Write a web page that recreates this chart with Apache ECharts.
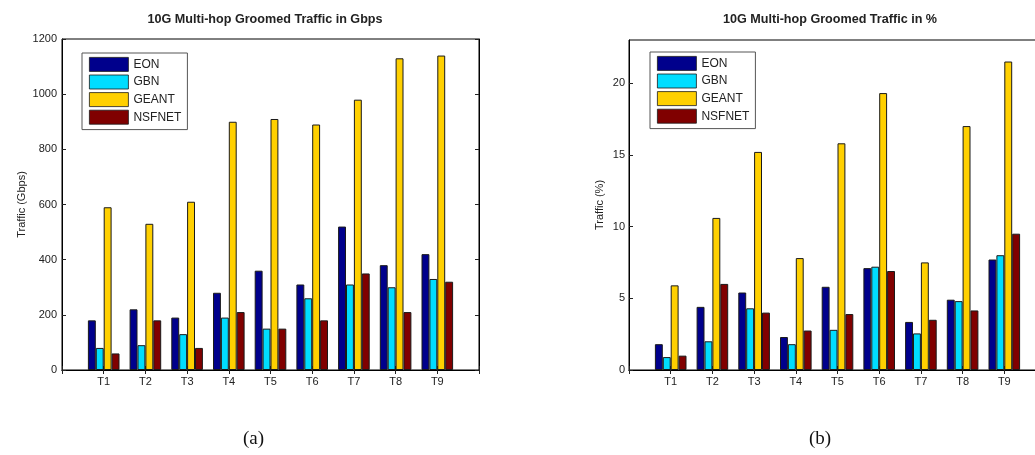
<!DOCTYPE html>
<html>
<head>
<meta charset="utf-8">
<script src="https://cdn.jsdelivr.net/npm/echarts@6/dist/echarts.min.js"></script>
<style>
  html, body { margin: 0; padding: 0; background: #fff; }
  #chart { width: 1035px; height: 455px; }
</style>
</head>
<body>
<div id="chart"></div>
<script>
// Traffic scenarios on the horizontal axis
const categories = ['T1', 'T2', 'T3', 'T4', 'T5', 'T6', 'T7', 'T8', 'T9'];
const networks = ['EON', 'GBN', 'GEANT', 'NSFNET'];

// (a) groomed traffic in Gbps
const eonGbps    = [180, 220, 190, 280, 360, 310, 520, 380, 420];
const gbnGbps    = [80, 90, 130, 190, 150, 260, 310, 300, 330];
const geantGbps  = [590, 530, 610, 900, 910, 890, 980, 1130, 1140];
const nsfnetGbps = [60, 180, 80, 210, 150, 180, 350, 210, 320];

// (b) groomed traffic in percent
const eonPct    = [1.8, 4.4, 5.4, 2.3, 5.8, 7.1, 3.35, 4.9, 7.7];
const gbnPct    = [0.9, 2.0, 4.3, 1.8, 2.8, 7.2, 2.55, 4.8, 8.0];
const geantPct  = [5.9, 10.6, 15.2, 7.8, 15.8, 19.3, 7.5, 17.0, 21.5];
const nsfnetPct = [1.0, 6.0, 4.0, 2.75, 3.9, 6.9, 3.5, 4.15, 9.5];

const colors = ['#00008c', '#00ddff', '#ffd000', '#800000'];
const FONT = '"Liberation Sans", Arial, sans-serif';

// axis runs from 0 to 10 with the scenarios at 1..9
const axisCats = [''].concat(categories, ['']);
const pad = arr => [null].concat(arr, [null]);

function xAxes(gridIndex) {
  return [
    {
      type: 'category', gridIndex, data: axisCats, boundaryGap: false,
      axisLine: { lineStyle: { color: '#000', width: 1 } },
      axisTick: { inside: true, length: 4, lineStyle: { color: '#222' } },
      axisLabel: { color: '#222', fontFamily: FONT, fontSize: 11, margin: 6, interval: 0 },
      splitLine: { show: false }
    },
    {
      type: 'category', gridIndex, data: axisCats, boundaryGap: false, position: 'top',
      axisLine: { lineStyle: { color: '#000', width: 1 } },
      axisTick: { inside: true, length: 4, interval: 0, lineStyle: { color: '#222' } },
      axisLabel: { show: false },
      splitLine: { show: false }
    }
  ];
}

function yAxes(gridIndex, max, interval, name, nameGap, labelMargin) {
  const common = {
    type: 'value', gridIndex, min: 0, max, interval,
    axisLine: { show: true, lineStyle: { color: '#000', width: 1 } },
    axisTick: { show: true, inside: true, length: 4, lineStyle: { color: '#222' } },
    splitLine: { show: false }
  };
  return [
    Object.assign({}, common, {
      position: 'left',
      name, nameLocation: 'middle', nameGap,
      nameTextStyle: { color: '#222', fontFamily: FONT, fontSize: 11 },
      axisLabel: {
        color: '#222', fontFamily: FONT, fontSize: 11, margin: labelMargin,
        showMaxLabel: max % interval === 0,
        formatter: v => String(v)
      }
    }),
    Object.assign({}, common, { position: 'right', axisLabel: { show: false } })
  ];
}

function barSeries(values, axisIndex) {
  return values.map((vals, i) => ({
    type: 'bar', name: networks[i],
    xAxisIndex: axisIndex, yAxisIndex: axisIndex,
    data: pad(vals),
    barWidth: 7.9, barGap: '0%',
    itemStyle: { color: colors[i], borderColor: '#1a1a1a', borderWidth: 1 },
    emphasis: { disabled: true },
    animation: false
  }));
}

function legendBox(left, top) {
  return {
    orient: 'vertical', left, top,
    data: networks,
    icon: 'rect', itemWidth: 39, itemHeight: 14, itemGap: 2.8,
    padding: [4, 6, 5, 7],
    borderColor: '#555', borderWidth: 1, backgroundColor: '#fff',
    textStyle: { color: '#222', fontFamily: FONT, fontSize: 12 },
    itemStyle: { borderWidth: 0.8 },
    selectedMode: false
  };
}

const TITLE_STYLE = { fontFamily: FONT, fontSize: 12.6, fontWeight: 'bold', color: '#222' };

const chart = echarts.init(document.getElementById('chart'), null, { renderer: 'canvas' });
chart.setOption({
  animation: false,
  color: colors,
  title: [
    { text: '10G Multi-hop Groomed Traffic in Gbps', left: 260, top: 8, textAlign: 'center', textStyle: TITLE_STYLE },
    { text: '10G Multi-hop Groomed Traffic in %', left: 825, top: 8, textAlign: 'center', textStyle: TITLE_STYLE }
  ],
  grid: [
    { left: 62, top: 39, width: 417, height: 331, outerBoundsMode: 'none',
      show: true, borderColor: '#000', borderWidth: 1, backgroundColor: 'transparent' },
    // the right panel runs past the page edge, so its frame is cut on the right
    { left: 629, top: 40, width: 417, height: 330, outerBoundsMode: 'none',
      show: true, borderColor: '#000', borderWidth: 1, backgroundColor: 'transparent' }
  ],
  xAxis: xAxes(0).concat(xAxes(1)),
  yAxis: yAxes(0, 1200, 200, 'Traffic (Gbps)', 35, 5).concat(yAxes(1, 23, 5, 'Traffic (%)', 24, 4)),
  legend: [legendBox(82, 53), legendBox(650, 52)],
  series: barSeries([eonGbps, gbnGbps, geantGbps, nsfnetGbps], 0)
    .concat(barSeries([eonPct, gbnPct, geantPct, nsfnetPct], 2)),
  graphic: [
    { type: 'text', left: 243, top: 430, style: { text: '(a)', font: '19px "Liberation Serif", "DejaVu Serif", serif', fill: '#111' } },
    { type: 'text', left: 809, top: 430, style: { text: '(b)', font: '19px "Liberation Serif", "DejaVu Serif", serif', fill: '#111' } }
  ]
});
</script>
</body>
</html>
